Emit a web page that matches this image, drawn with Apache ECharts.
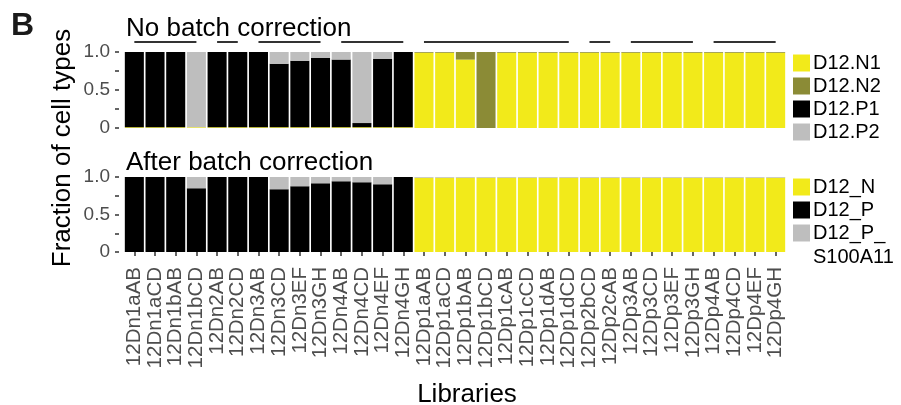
<!DOCTYPE html>
<html>
<head>
<meta charset="utf-8">
<script src="https://cdn.jsdelivr.net/npm/echarts@6/dist/echarts.min.js"></script>
<style>html,body{margin:0;padding:0;background:#fff}#c{width:901px;height:405px}</style>
</head>
<body>
<div id="c"></div>
<script>
const categories = ['12Dn1aAB','12Dn1aCD','12Dn1bAB','12Dn1bCD','12Dn2AB','12Dn2CD','12Dn3AB','12Dn3CD','12Dn3EF','12Dn3GH','12Dn4AB','12Dn4CD','12Dn4EF','12Dn4GH',
  '12Dp1aAB','12Dp1aCD','12Dp1bAB','12Dp1bCD','12Dp1cAB','12Dp1cCD','12Dp1dAB','12Dp1dCD','12Dp2bCD','12Dp2cAB','12Dp3AB','12Dp3CD','12Dp3EF','12Dp3GH','12Dp4AB','12Dp4CD','12Dp4EF','12Dp4GH'];

// Top panel: No batch correction
const topN1 = [0.01,0.01,0.01,0.01,0.01,0.01,0.01,0.01,0.01,0.01,0.01,0.01,0.01,0.01,
  0.99,0.99,0.90,0,0.99,0.99,0.99,0.99,0.99,0.99,0.99,0.99,0.99,0.99,0.99,0.99,0.99,0.99];
const topN2 = [0,0,0,0,0,0,0,0,0,0,0,0,0,0,
  0.01,0.01,0.10,1.0,0.01,0.01,0.01,0.01,0.01,0.01,0.01,0.01,0.01,0.01,0.01,0.01,0.01,0.01];
const topP1 = [0.99,0.99,0.99,0,0.99,0.99,0.99,0.835,0.875,0.915,0.89,0.055,0.90,0.99,
  0,0,0,0,0,0,0,0,0,0,0,0,0,0,0,0,0,0];
const topP2 = [0,0,0,0.99,0,0,0,0.155,0.115,0.075,0.10,0.935,0.09,0,
  0,0,0,0,0,0,0,0,0,0,0,0,0,0,0,0,0,0];

// Bottom panel: After batch correction
const botN = [0,0,0,0,0,0,0,0,0,0,0,0,0,0,
  0.99,0.99,0.99,0.99,0.99,0.99,0.99,0.99,0.99,0.99,0.99,0.99,0.99,0.99,0.99,0.99,0.99,0.99];
const botP = [1,1,1,0.85,1,1,1,0.837,0.877,0.916,0.943,0.93,0.903,1,
  0,0,0,0,0,0,0,0,0,0,0,0,0,0,0,0,0,0];
const botS = [0,0,0,0.15,0,0,0,0.163,0.123,0.084,0.057,0.07,0.097,0,
  0.01,0.01,0.01,0.01,0.01,0.01,0.01,0.01,0.01,0.01,0.01,0.01,0.01,0.01,0.01,0.01,0.01,0.01];

const groups = [['12Dn1aAB','12Dn1bCD'],['12Dn2AB','12Dn2CD'],['12Dn3AB','12Dn3GH'],['12Dn4AB','12Dn4GH'],
  ['12Dp1aAB','12Dp1dCD'],['12Dp2bCD','12Dp2cAB'],['12Dp3AB','12Dp3GH'],['12Dp4AB','12Dp4GH']];

const yTickLabels = {0:'0', 0.5:'0.5', 1:'1.0'};

const YELLOW = '#F2EA1A', OLIVE = '#8B8B36', BLACK = '#000000', GREY = '#BEBEBE';
const FONT = '"Liberation Sans", Arial, Helvetica, sans-serif';

const chart = echarts.init(document.getElementById('c'), null, {renderer:'canvas'});

function yAxis(gi){
  return {
    gridIndex: gi, type:'value', min:0, max:1, interval:0.25, offset:5,
    axisLine:{show:false},
    axisTick:{show:true, length:4, lineStyle:{color:'#333333', width:1.5}},
    splitLine:{show:false},
    axisLabel:{margin:9, fontSize:19, color:'#4D4D4D', fontFamily:FONT,
      formatter: v => (yTickLabels[v] !== undefined ? yTickLabels[v] : '')}
  };
}

function bar(name, data, gi, color, stack){
  return {name, type:'bar', xAxisIndex:gi, yAxisIndex:gi, stack, data,
    barCategoryGap:'8%', itemStyle:{color}, emphasis:{disabled:true}, animation:false};
}

const option = {
  animation:false,
  backgroundColor:'#ffffff',
  textStyle:{fontFamily:FONT},
  grid:[
    {left:124, width:662, top:52, height:76},
    {left:124, width:662, top:177, height:75}
  ],
  xAxis:[
    {gridIndex:0, type:'category', data:categories, axisLine:{show:false}, axisTick:{show:false}, axisLabel:{show:false}},
    {gridIndex:1, type:'category', data:categories, axisLine:{show:false},
      axisTick:{show:true, alignWithLabel:true, length:4, lineStyle:{color:'#333333', width:1.5}},
      axisLabel:{interval:0, rotate:90, margin:15, fontSize:20.5, color:'#4D4D4D', fontFamily:FONT}}
  ],
  yAxis:[yAxis(0), yAxis(1)],
  legend:[
    {orient:'vertical', left:793, top:53, itemWidth:17, itemHeight:17, itemGap:3, icon:'rect',
      selectedMode:false, padding:0,
      textStyle:{fontSize:20, color:'#000', lineHeight:17, fontFamily:FONT, padding:[0,0,0,-2]},
      data:['D12.N1','D12.N2','D12.P1','D12.P2']},
    {orient:'vertical', left:793, top:177, itemWidth:17, itemHeight:17, itemGap:3, icon:'rect',
      selectedMode:false, padding:0,
      textStyle:{fontSize:20, color:'#000', lineHeight:17, fontFamily:FONT, padding:[0,0,0,-2]},
      data:['D12_N','D12_P','D12_P_S100A11'],
      formatter: n => (n === 'D12_P_S100A11' ? 'D12_P_' : n)}
  ],
  series:[
    bar('D12.N1', topN1, 0, YELLOW, 'top'),
    bar('D12.N2', topN2, 0, OLIVE, 'top'),
    bar('D12.P1', topP1, 0, BLACK, 'top'),
    bar('D12.P2', topP2, 0, GREY, 'top'),
    bar('D12_N', botN, 1, YELLOW, 'bot'),
    bar('D12_P', botP, 1, BLACK, 'bot'),
    bar('D12_P_S100A11', botS, 1, GREY, 'bot')
  ]
};
chart.setOption(option);

const yLine = chart.convertToPixel({yAxisIndex:0}, 1) - 10;
const graphics = groups.map(g => ({
  type:'line', silent:true,
  shape:{x1:chart.convertToPixel({xAxisIndex:0}, g[0]), y1:yLine, x2:chart.convertToPixel({xAxisIndex:0}, g[1]), y2:yLine},
  style:{stroke:'#333333', lineWidth:2}
}));
graphics.push(
  {type:'text', left:11, top:10, style:{text:'B', font:'bold 32px ' + FONT, fill:'#1A1A1A'}},
  {type:'text', x:126, y:28.5, style:{text:'No batch correction', font:'26px ' + FONT, fill:'#000', verticalAlign:'middle'}},
  {type:'text', x:126, y:162.5, style:{text:'After batch correction', font:'26px ' + FONT, fill:'#000', verticalAlign:'middle'}},
  {type:'text', x:467, y:395, style:{text:'Libraries', font:'26px ' + FONT, fill:'#000', align:'center', verticalAlign:'middle'}},
  {type:'text', x:63, y:148, rotation:Math.PI/2, style:{text:'Fraction of cell types', font:'26px ' + FONT, fill:'#000', align:'center', verticalAlign:'middle'}},
  {type:'text', x:813, y:257, style:{text:'S100A11', font:'20px ' + FONT, fill:'#000', verticalAlign:'middle'}}
);
chart.setOption({graphic:graphics});
</script>
</body>
</html>
